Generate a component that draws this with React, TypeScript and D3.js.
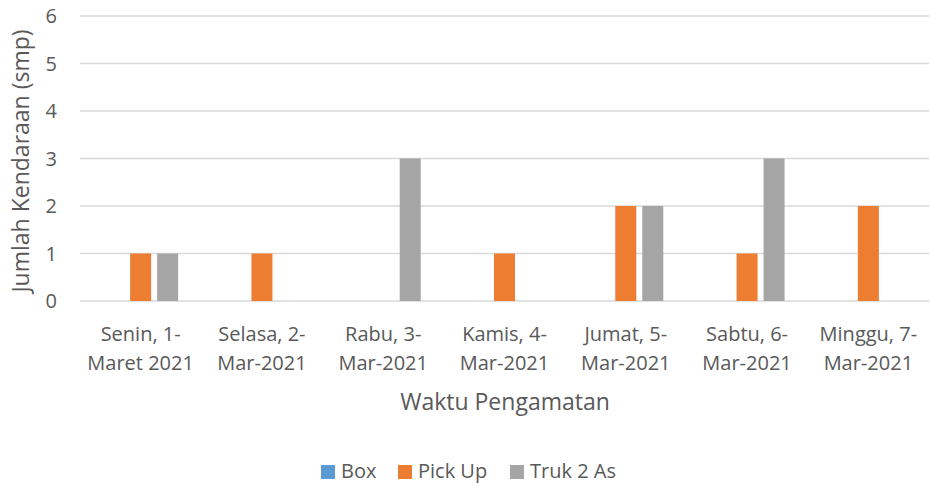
import React from "react";
import * as d3 from "d3";

const categories: string[][] = [
  ["Senin, 1-", "Maret 2021"],
  ["Selasa, 2-", "Mar-2021"],
  ["Rabu, 3-", "Mar-2021"],
  ["Kamis, 4-", "Mar-2021"],
  ["Jumat, 5-", "Mar-2021"],
  ["Sabtu, 6-", "Mar-2021"],
  ["Minggu, 7-", "Mar-2021"],
];
const seriesNames = ["Box", "Pick Up", "Truk 2 As"];
const boxValues = [0, 0, 0, 0, 0, 0, 0];
const pickUpValues = [1, 1, 0, 1, 2, 1, 2];
const trukValues = [1, 0, 3, 0, 2, 3, 0];
const yTicks = [0, 1, 2, 3, 4, 5, 6];
const colors = ["#5B9BD5", "#ED7D31", "#A5A5A5"];

const W = 930;
const H = 486;
const FONT = "'Open Sans', sans-serif";
const TXT = "#595959";

export default function App() {
  const series = [boxValues, pickUpValues, trukValues];
  const catKeys = categories.map((c) => c.join(" "));
  const x0 = d3.scaleBand<string>().domain(catKeys).range([80, 929]).padding(0);
  const groupW = 75;
  const x1 = d3.scaleBand<string>().domain(seriesNames).range([0, groupW]).paddingInner(6 / 27).paddingOuter(0);
  const y = d3.scaleLinear().domain([0, 6]).range([301, 16]);
  const legendX = [321, 398, 510];

  return (
    <svg width={W} height={H} style={{ position: "absolute", left: 0, top: 0, background: "#fff" }}>
      <rect x={0} y={0} width={W} height={H} fill="#fff" />
      {yTicks.map((t) => (
        <g key={t}>
          <line x1={80} x2={929} y1={y(t)} y2={y(t)} stroke="#D9D9D9" strokeWidth={1.3} />
          <text x={57} y={y(t)} dy="0.36em" textAnchor="end" fontFamily={FONT} fontSize={20} fill={TXT}>
            {t}
          </text>
        </g>
      ))}
      {catKeys.map((k, ci) => {
        const gx = (x0(k) as number) + (x0.bandwidth() - groupW) / 2;
        return (
          <g key={k}>
            {series.map((vals, si) =>
              vals[ci] > 0 ? (
                <rect
                  key={si}
                  x={gx + (x1(seriesNames[si]) as number)}
                  y={y(vals[ci])}
                  width={x1.bandwidth()}
                  height={y(0) - y(vals[ci])}
                  fill={colors[si]}
                />
              ) : null
            )}
          </g>
        );
      })}
      {catKeys.map((k, ci) => {
        const cx = (x0(k) as number) + x0.bandwidth() / 2;
        return (
          <text key={k} textAnchor="middle" fontFamily={FONT} fontSize={20} fill={TXT}>
            <tspan x={cx} y={341}>{categories[ci][0]}</tspan>
            <tspan x={cx} y={370}>{categories[ci][1]}</tspan>
          </text>
        );
      })}
      <text x={505} y={410} textAnchor="middle" fontFamily={FONT} fontSize={23} fill={TXT}>
        Waktu Pengamatan
      </text>
      <text
        transform={`translate(29,161) rotate(-90)`}
        textAnchor="middle"
        fontFamily={FONT}
        fontSize={23}
        fill={TXT}
      >
        Jumlah Kendaraan (smp)
      </text>
      {seriesNames.map((s, i) => {
        const lx = legendX[i];
        return (
          <g key={s}>
            <rect x={lx} y={465} width={14} height={14} fill={colors[i]} />
            <text x={lx + 20} y={478} fontFamily={FONT} fontSize={20} fill={TXT}>
              {s}
            </text>
          </g>
        );
      })}
    </svg>
  );
}
